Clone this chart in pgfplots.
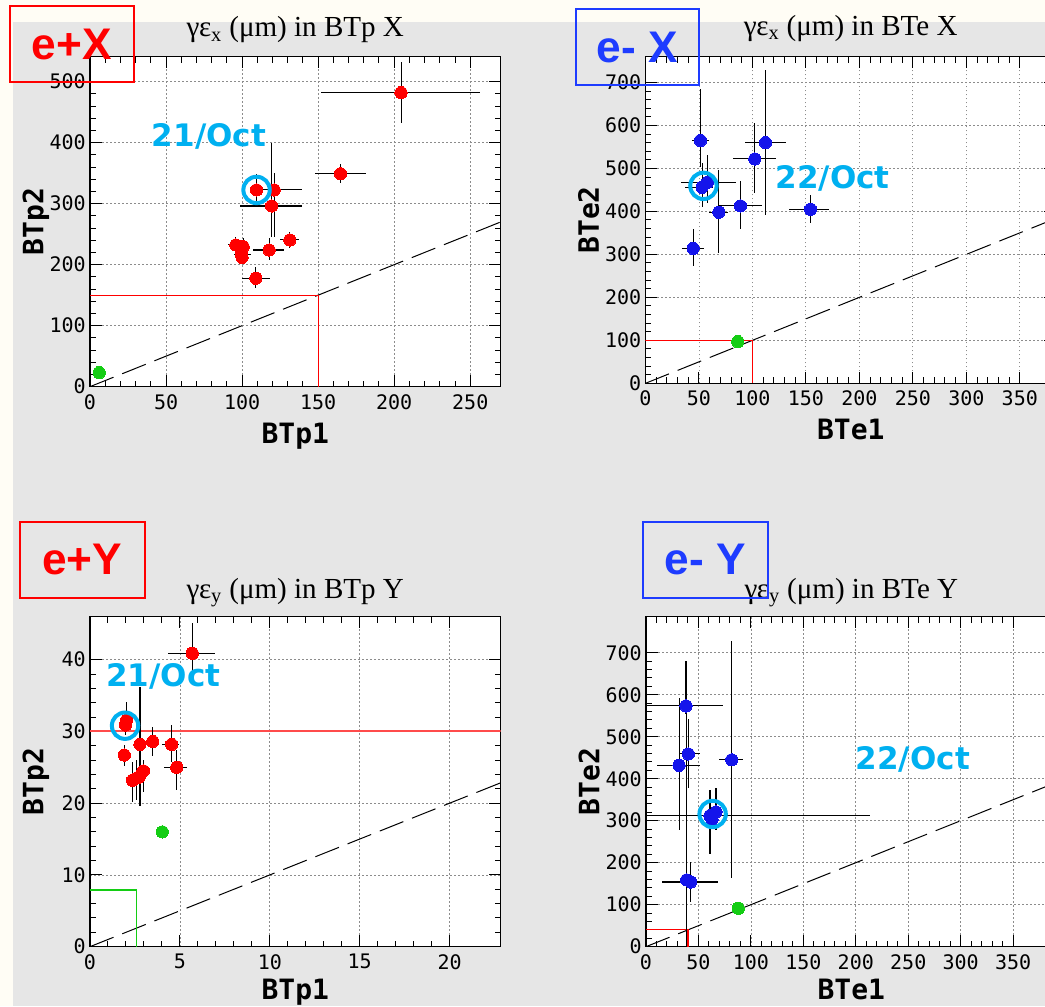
\documentclass[border=0pt]{standalone}
\usepackage{pgfplots}
\pgfplotsset{compat=1.18}
\usepackage{pgfplotstable}
\usepackage{fontspec}
\setmainfont{Liberation Sans}
\newfontfamily\monofont{DejaVu Sans Mono}
\newfontfamily\serifont{Liberation Serif}
\newfontfamily\dvfont{DejaVu Sans}

\definecolor{bgcream}{RGB}{255,253,245}
\definecolor{bggray}{RGB}{230,230,230}
\definecolor{ann}{RGB}{0,176,240}
\definecolor{eblue}{RGB}{30,60,255}
\definecolor{ptred}{RGB}{255,0,0}
\definecolor{ptblue}{RGB}{20,20,235}
\definecolor{ptgreen}{RGB}{20,205,20}
\definecolor{gridgray}{RGB}{140,140,140}
\definecolor{lightred}{RGB}{255,75,75}

\pgfplotstableread{
x y xm xp ym yp
204.5 482 52.9 52.2 50 50
164.7 349 16.9 16.6 15 16
109.5 322.5 4 4 24.7 26.2
121.1 322.5 9.4 18.6 76.5 27.5
119.4 296.2 20.8 20.3 50.2 102.8
131.4 240.5 6.6 6.1 12.5 13.5
117.8 224 10.5 9.7 16.3 19
95.9 232.3 5 4.8 11.3 12.7
100.7 229.5 5.7 4.3 15.5 13.5
99.7 216 4.7 6.3 8 8
100 212 3 3 6 6
109 177.7 9.3 9.3 16.7 19
}\dataA

\pgfplotstableread{
x y xm xp ym yp
51.4 565 7.8 7.8 61 119
112.2 560 19.6 19.4 168 168
102.2 522 20.8 20.3 80 83
53 456 15.6 10.3 45 56
58 468 25 27 49 63
68.6 398 9.4 8.4 94 98.6
88.8 412.8 20.2 20.2 54.2 59
154.3 405 20.3 17.1 31 33
44.6 314 10.3 9.9 41 44.6
}\dataB

\pgfplotstableread{
x y xm xp ym yp
5.69 40.9 1.33 1.26 2.6 4.2
2.04 31.6 0.25 0.25 0.8 2.5
1.98 30.9 0.25 0.25 1.4 1.5
1.91 26.7 0.2 0.2 1.5 1.4
2.78 28.2 0.3 0.3 8.6 8.0
3.49 28.6 0.22 0.26 2 2
4.54 28.2 0.55 0.43 2.4 2.7
4.82 25.0 0.7 0.56 3.2 2.4
2.37 23.2 0.2 0.2 3.0 2.6
2.6 23.5 0.2 0.2 3 2.5
2.74 23.7 0.2 0.2 4.1 2.2
2.97 24.5 0.2 0.2 2.9 1.5
}\dataC

\pgfplotstableread{
x y xm xp ym yp
38.1 573.5 38 35.6 20 106.5
40.3 459 7.9 11.2 82 84
31.5 432 21.3 20 154 160
81.7 445 12.5 10.7 282 282
61 312 60 153 91 61
66.7 321 3 3 44 56
63 303 2 2 5 5
38.8 159 2 2 159 521
42.6 154 27.6 26.4 47 48.5
}\dataD

\pgfplotsset{
  rootpanel/.style={
    scale only axis, width=308pt,
    axis background/.style={fill=white},
    axis line style={black, line width=1.1pt},
    tick align=inside,
    xtick pos=both, ytick pos=both,
    xticklabel pos=lower, yticklabel pos=left,
    major tick length=8.75pt, minor tick length=4.5pt,
    tick style={black, line width=0.75pt},
    grid=major,
    major grid style={gridgray, line width=0.6pt, dash pattern=on 1.2pt off 1.8pt},
    minor x tick num=4, minor y tick num=4,
    /pgf/number format/assume math mode=true,
    /pgf/number format/1000 sep={},
    scaled ticks=false,
    ticklabel style={font=\monofont\fontsize{15pt}{18pt}\selectfont},
    xticklabel style={anchor=north, inner sep=0pt, yshift=-5.6pt},
    yticklabel style={anchor=east, inner sep=0pt, xshift=-3pt},
    xlabel style={at={(axis description cs:0.5,0)}, anchor=base, yshift=-42.4pt, inner sep=0pt,
      font=\monofont\bfseries\fontsize{21pt}{24pt}\selectfont},
    ylabel style={at={(axis description cs:-0.1137,0.5)}, anchor=base, inner sep=0pt,
      font=\monofont\bfseries\fontsize{21pt}{24pt}\selectfont},
    title style={at={(axis description cs:0.5,1)}, anchor=base, inner sep=0pt,
      font=\serifont\fontsize{21.8pt}{24pt}\selectfont},
  },
  dots/.style={only marks, mark=*, mark size=4.6pt, mark options={draw=#1, fill=#1, line width=0pt}},
  errs/.style={draw=none, forget plot, error bars/.cd, x dir=both, x explicit, y dir=both, y explicit,
     error mark=none, error bar style={draw=black, line width=0.8pt, solid}},
  ring/.style={only marks, mark=o, mark size=9.9pt, mark options={draw=ann, line width=3pt}},
  diag/.style={black, line width=0.75pt, dash pattern=on 19pt off 7pt},
}

\begin{document}
\begin{tikzpicture}
\useasboundingbox (0,0) rectangle (783.75pt,754.5pt);
\clip (0,0) rectangle (783.75pt,754.5pt);
\fill[bgcream] (0,0) rectangle (783.75pt,754.5pt);
\fill[bggray] (9.75pt,0) rectangle (783.75pt,738.2pt);

% Panel 1: e+ X
\begin{axis}[rootpanel, at={(67.5pt,464.5pt)}, anchor=south west, height=247.5pt,
  xmin=0, xmax=270, ymin=0, ymax=541,
  xtick={0,50,...,250}, ytick={0,100,...,500},
  xlabel={BTp1}, ylabel={BTp2},
  title style={yshift=8.8pt},
  title={γε\textsubscript{x} (μm) in BTp X}]
\addplot[diag] coordinates {(0,0) (300,300)};
\addplot[red, line width=0.75pt] coordinates {(0,150) (150,150) (150,0)};
\addplot[dots=ptred] table[x=x,y=y] {\dataA};
\addplot[errs] table[x=x,y=y,x error plus=xp,x error minus=xm,y error plus=yp,y error minus=ym] {\dataA};
\addplot[dots=ptgreen] coordinates {(6.1,23)};
\addplot[ring] coordinates {(109.5,322.5)};
\end{axis}

% Panel 2: e- X
\begin{axis}[rootpanel, at={(484.1pt,467pt)}, anchor=south west, height=245pt,
  xmin=0, xmax=384, ymin=0, ymax=760,
  xtick={0,50,...,350}, ytick={0,100,...,700},
  xlabel={BTe1}, ylabel={BTe2},
  title style={yshift=10pt},
  title={γε\textsubscript{x} (μm) in BTe X}]
\addplot[diag] coordinates {(0,0) (500,500)};
\addplot[red, line width=0.75pt] coordinates {(0,100) (100,100) (100,0)};
\addplot[dots=ptblue] table[x=x,y=y] {\dataB};
\addplot[errs] table[x=x,y=y,x error plus=xp,x error minus=xm,y error plus=yp,y error minus=ym] {\dataB};
\addplot[dots=ptgreen] coordinates {(86.3,97)};
\addplot[ring] coordinates {(54.2,459.4)};
\end{axis}

% Panel 3: e+ Y
\begin{axis}[rootpanel, at={(67.5pt,44.5pt)}, anchor=south west, height=247.5pt,
  xmin=0, xmax=22.84, ymin=0, ymax=46,
  xtick={0,5,...,20}, ytick={0,10,...,40},
  xlabel={BTp1}, ylabel={BTp2},
  xlabel style={yshift=2.6pt},
  title style={yshift=7.5pt},
  title={γε\textsubscript{y} (μm) in BTp Y}]
\addplot[diag] coordinates {(0,0) (30,30)};
\addplot[lightred, line width=1.5pt] coordinates {(0,30) (30,30)};
\addplot[ptgreen, line width=0.9pt] coordinates {(0,7.9) (2.6,7.9) (2.6,0)};
\addplot[dots=ptred] table[x=x,y=y] {\dataC};
\addplot[errs] table[x=x,y=y,x error plus=xp,x error minus=xm,y error plus=yp,y error minus=ym] {\dataC};
\addplot[dots=ptgreen] coordinates {(4.02,16.0)};
\addplot[ring] coordinates {(1.95,30.8)};
\end{axis}

% Panel 4: e- Y
\begin{axis}[rootpanel, at={(484.5pt,44.5pt)}, anchor=south west, height=247.5pt,
  xmin=0, xmax=391.5, ymin=0, ymax=786,
  xtick={0,50,...,350}, ytick={0,100,...,700},
  xlabel={BTe1}, ylabel={BTe2},
  xlabel style={yshift=2.6pt},
  title style={yshift=7.5pt},
  title={γε\textsubscript{y} (μm) in BTe Y}]
\addplot[diag] coordinates {(0,0) (500,500)};
\addplot[red, line width=0.9pt] coordinates {(0,40) (40,40) (40,0)};
\addplot[dots=ptblue] table[x=x,y=y] {\dataD};
\addplot[errs] table[x=x,y=y,x error plus=xp,x error minus=xm,y error plus=yp,y error minus=ym] {\dataD};
\addplot[dots=ptgreen] coordinates {(88,91.5)};
\addplot[ring] coordinates {(63.5,316)};
\end{axis}

% annotations
\tikzset{datefont/.style={text=ann, inner sep=0pt, anchor=base, font=\dvfont\bfseries\fontsize{23.25pt}{26pt}\selectfont},
         tagfont/.style={inner sep=0pt, anchor=base, font=\bfseries\fontsize{33.2pt}{36pt}\selectfont}}
\node[datefont] at (156.75pt,644.5pt) {21/Oct};
\node[datefont] at (624.4pt,613.3pt) {22/Oct};
\node[datefont] at (122.5pt,239.5pt) {21/Oct};
\node[datefont] at (684.6pt,177.5pt) {22/Oct};

\draw[red, line width=1.5pt] (7.5pt,750.2pt) rectangle (100.5pt,692.8pt);
\node[tagfont, text=red] at (53.8pt,709.5pt) {e+X};
\draw[eblue, line width=1.5pt] (432pt,747.75pt) rectangle (524.5pt,690.75pt);
\node[tagfont, text=eblue] at (477.75pt,707.5pt) {e- X};
\draw[red, line width=1.5pt] (15pt,363.2pt) rectangle (108.75pt,305.8pt);
\node[tagfont, text=red] at (61.5pt,323.25pt) {e+Y};
\draw[eblue, line width=1.5pt] (482pt,363.2pt) rectangle (575.8pt,305.8pt);
\node[tagfont, text=eblue] at (528.75pt,323.25pt) {e- Y};
\end{tikzpicture}
\end{document}
